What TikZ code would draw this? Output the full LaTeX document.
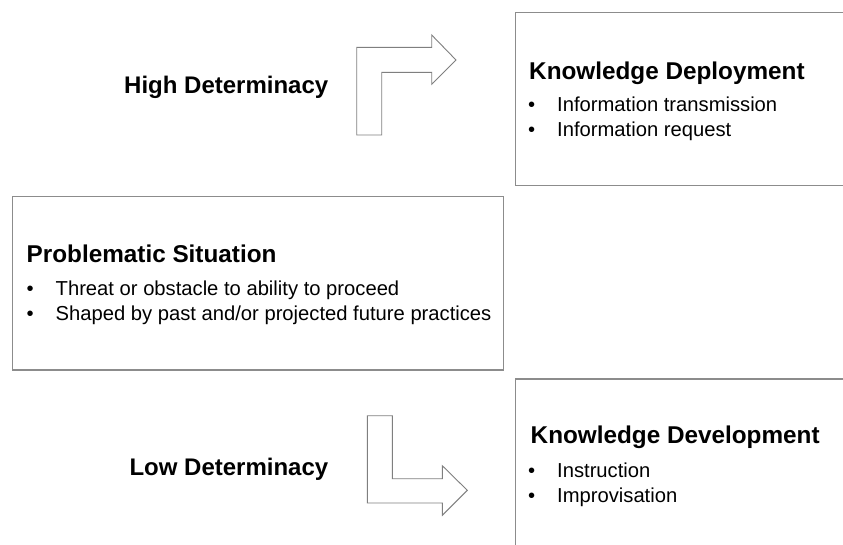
\documentclass[tikz,border=0pt]{standalone}
\usepackage{fontspec}
\setmainfont{Liberation Sans}
\usepackage{xcolor}
\usetikzlibrary{positioning,calc}

\definecolor{boxgray}{HTML}{8C8C8C}
\definecolor{arrowgray}{HTML}{7F7F7F}

\tikzset{
    frame/.style={draw=boxgray, line width=1.2pt, anchor=north west, inner sep=0pt},
    bendarrow/.style={draw=arrowgray, line width=0.9pt, fill=white, line join=miter},
    title/.style={anchor=base west, inner sep=0pt, font=\fontsize{24.3}{28}\selectfont\bfseries},
    item/.style={anchor=base west, inner sep=0pt, font=\fontsize{20.2}{24}\selectfont},
    level/.style={anchor=base east, inner sep=0pt, font=\fontsize{24}{28}\selectfont\bfseries}
}
\newcommand{\bul}[1]{\makebox[29pt][l]{\textbullet}#1}

\begin{document}
\begin{tikzpicture}[x=1pt, y=-1pt]
    \useasboundingbox (0,0) rectangle (843,544);
    \clip (0,0) rectangle (843,544);

    % Boxes
    \node[frame, minimum width=340pt, minimum height=173.3pt] (deploy) at (515,11.7) {};
    \node[frame, minimum width=491pt, minimum height=173.6pt] (problem) at (11.7,195.7) {};
    \node[frame, minimum width=340pt, minimum height=180pt] (develop) at (515,378.3) {};

    % Knowledge Deployment
    \node[title] (deployT) at (529,79) {Knowledge Deployment};
    \node[item] (deploy1) at (528,111.7) {\bul{Information transmission}};
    \node[item] (deploy2) at (528,136) {\bul{Information request}};

    % Problematic Situation
    \node[title] (problemT) at (26.5,262.3) {Problematic Situation};
    \node[item] (problem1) at (26.5,295) {\bul{Threat or obstacle to ability to proceed}};
    \node[item] (problem2) at (26.5,320) {\bul{Shaped by past and/or projected future practices}};

    % Knowledge Development
    \node[title] (developT) at (530.5,443.3) {Knowledge Development};
    \node[item] (develop1) at (528,477.3) {\bul{Instruction}};
    \node[item] (develop2) at (528,502.7) {\bul{Improvisation}};

    % Determinacy labels
    \node[level] (high) at (328.5,93.3) {High Determinacy};
    \node[level] (low) at (328.5,475) {Low Determinacy};

    % Bent arrows
    \draw[bendarrow] (356.7,135) -- (356.7,47.3) -- (431.7,47.3) -- (431.7,35) -- (456,60)
        -- (431.7,84.3) -- (431.7,72.3) -- (381.7,72.3) -- (381.7,135) -- cycle;
    \draw[bendarrow] (367.3,415.7) -- (392.3,415.7) -- (392.3,478.7) -- (442.3,478.7) -- (442.3,465.7)
        -- (467.3,490.3) -- (442.3,515.3) -- (442.3,503) -- (367.3,503) -- cycle;
\end{tikzpicture}
\end{document}
